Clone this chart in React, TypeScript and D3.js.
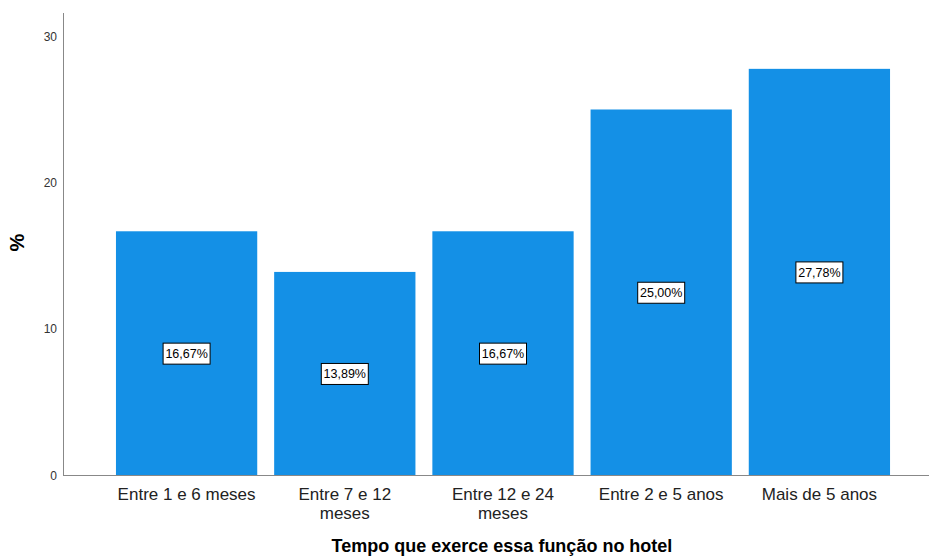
import React from "react";
import * as d3 from "d3";

const categories = ["Entre 1 e 6 meses", "Entre 7 e 12 meses", "Entre 12 e 24 meses", "Entre 2 e 5 anos", "Mais de 5 anos"];
const categoryLines = [["Entre 1 e 6 meses"], ["Entre 7 e 12", "meses"], ["Entre 12 e 24", "meses"], ["Entre 2 e 5 anos"], ["Mais de 5 anos"]];
const values = [16.67, 13.89, 16.67, 25.0, 27.78];
const yTicks = [0, 10, 20, 30];
const xTitle = "Tempo que exerce essa função no hotel";
const yTitle = "%";

const W = 929;
const H = 556;
const FONT = "'Liberation Sans', Arial, sans-serif";

export default function App() {
  const x = d3.scaleBand<string>().domain(categories).range([107.5, 898.5]).paddingInner(0.107).paddingOuter(0.0535);
  const y = d3.scaleLinear().domain([0, 31.6]).range([475, 13]);
  const fmt = (v: number) => v.toFixed(2).replace(".", ",") + "%";

  return (
    <svg width={W} height={H} style={{ position: "absolute", left: 0, top: 0, background: "#fff" }} fontFamily={FONT}>
      {values.map((v, i) => {
        const cx = x(categories[i])! + x.bandwidth() / 2;
        const yTop = y(v);
        const yMid = (y(v) + y(0)) / 2;
        return (
          <g key={i}>
            <rect x={x(categories[i])} y={yTop} width={x.bandwidth()} height={y(0) - yTop} fill="#1490e6" />
            <rect x={cx - 23.5} y={yMid - 10} width={47} height={21} fill="#fff" stroke="#000" strokeWidth={1} />
            <text x={cx} y={yMid + 5} textAnchor="middle" fontSize={12.5} fill="#000">{fmt(v)}</text>
          </g>
        );
      })}
      <line x1={63.5} x2={63.5} y1={y.range()[1]} y2={y(0)} stroke="#888" strokeWidth={1} />
      <line x1={63} x2={W} y1={y(0) + 0.5} y2={y(0) + 0.5} stroke="#888" strokeWidth={1} />
      {yTicks.map((t) => (
        <text key={t} x={57} y={y(t) + 4.5} textAnchor="end" fontSize={12} fill="#333">{t}</text>
      ))}
      {categoryLines.map((lines, i) => {
        const cx = x(categories[i])! + x.bandwidth() / 2;
        return (
          <text key={i} x={cx} y={500} textAnchor="middle" fontSize={17} fill="#222">
            {lines.map((l, j) => (
              <tspan key={j} x={cx} dy={j === 0 ? 0 : 18.5}>{l}</tspan>
            ))}
          </text>
        );
      })}
      <text x={502} y={552} textAnchor="middle" fontSize={18} fontWeight="bold" fill="#000">{xTitle}</text>
      <text transform={`translate(24,${y(15.9)}) rotate(-90)`} textAnchor="middle" fontSize={20} fontWeight="bold" fill="#000">{yTitle}</text>
    </svg>
  );
}
